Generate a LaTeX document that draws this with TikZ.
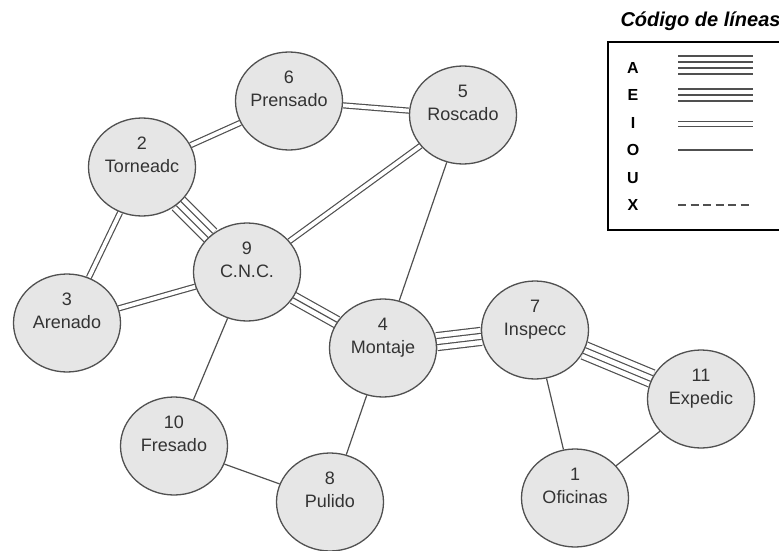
\documentclass[tikz,border=0pt]{standalone}
\usepackage{fontspec}
\setmainfont{Liberation Sans}
\usepackage{tikz}
\usetikzlibrary{shapes,backgrounds}
\definecolor{lncol}{HTML}{505050}
\definecolor{stfill}{HTML}{E6E6E6}
\definecolor{txcol}{HTML}{333333}
\tikzstyle{stat}  = [ellipse, draw=lncol, fill=stfill, line width=1.3pt, minimum width=107pt, minimum height=98pt, inner sep=0pt, text=txcol, font=\fontsize{18}{21}\selectfont]
\tikzstyle{linkO} = [draw=lncol, line width=1.2pt]
\tikzstyle{linkI} = [draw=lncol, double=white, line width=1.2pt, double distance=3.8pt]
\tikzstyle{linkE} = [linkO, preaction={draw=lncol, double=white, line width=1.2pt, double distance=10.8pt}]
\tikzstyle{linkA} = [draw=lncol, double=white, line width=1.2pt, double distance=4.8pt, preaction={draw=lncol, double=white, line width=1.2pt, double distance=16.8pt}]
\tikzstyle{linkX} = [draw=lncol, line width=1.2pt, dash pattern=on 8pt off 4.5pt]
\tikzstyle{code}  = [font=\fontsize{16}{19}\selectfont\bfseries, text=black]
\newcommand{\stn}[2]{\parbox[c][60pt][t]{0pt}{\centering\makebox[0pt]{#1}\\[2pt]\makebox[0pt]{#2}}}

\begin{document}
\begin{tikzpicture}[x=1pt, y=-1pt]

    \useasboundingbox (0,0) rectangle (779,551);

    \node[stat] (s6)  at (289,101) {\stn{6}{Prensado}};
    \node[stat] (s5)  at (463,115) {\stn{5}{Roscado}};
    \node[stat] (s2)  at (142,167) {\stn{2}{Torneadc}};
    \node[stat] (s9)  at (247,272) {\stn{9}{C.N.C.}};
    \node[stat] (s3)  at (67,323)  {\stn{3}{Arenado}};
    \node[stat] (s4)  at (383,348) {\stn{4}{Montaje}};
    \node[stat] (s7)  at (535,330) {\stn{7}{Inspecc}};
    \node[stat] (s11) at (701,399) {\stn{11}{Expedic}};
    \node[stat] (s10) at (174,446) {\stn{10}{Fresado}};
    \node[stat] (s8)  at (330,502) {\stn{8}{Pulido}};
    \node[stat] (s1)  at (575,498) {\stn{1}{Oficinas}};

    \begin{pgfonlayer}{background}
    \draw[linkI] (s2) -- (s6);
    \draw[linkI] (s6) -- (s5);
    \draw[linkA] (s2) -- (s9);
    \draw[linkI] (s2) -- (s3);
    \draw[linkI] (s3) -- (s9);
    \draw[linkI] (s9) -- (s5);
    \draw[linkO] (s5) -- (s4);
    \draw[linkE] (s9) -- (s4);
    \draw[linkA] (s4) -- (s7);
    \draw[linkA] (s7) -- (s11);
    \draw[linkO] (s7) -- (s1);
    \draw[linkO] (s11) -- (s1);
    \draw[linkO] (s9) -- (s10);
    \draw[linkO] (s10) -- (s8);
    \draw[linkO] (s8) -- (s4);
    \end{pgfonlayer}

    \node[font=\fontsize{20}{24}\selectfont\bfseries\itshape, anchor=base west] (title) at (617,27) {Código de líneas};
    \draw[line width=2pt] (779,42) -| (608,230) -- (779,230);

    \node[code] (cA) at (633,68)  {A};
    \node[code] (cE) at (633,95)  {E};
    \node[code] (cI) at (633,123) {I};
    \node[code] (cO) at (633,150) {O};
    \node[code] (cU) at (633,178) {U};
    \node[code] (cX) at (633,205) {X};

    \draw[linkA] (678,65)  -- (753,65);
    \draw[linkE] (678,95)  -- (753,95);
    \draw[linkI] (678,124) -- (753,124);
    \draw[linkO] (678,150) -- (753,150);
    \draw[linkX] (678,205) -- (753,205);

\end{tikzpicture}
\end{document}
